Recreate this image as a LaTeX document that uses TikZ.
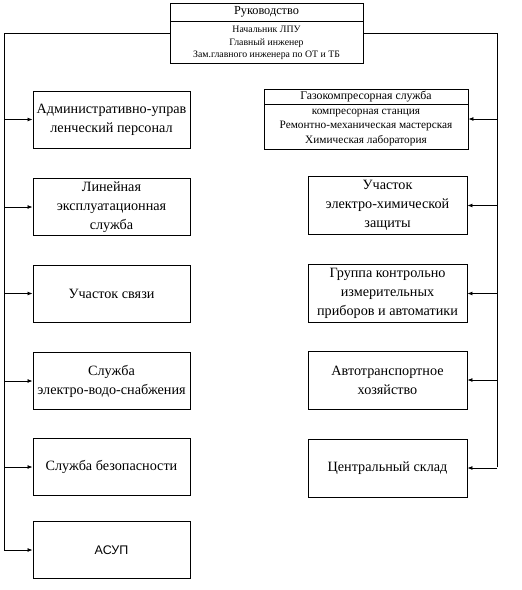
\documentclass[tikz,border=0pt]{standalone}
\usepackage{fontspec}
\setmainfont{Liberation Serif}
\newfontfamily\arialf{Liberation Sans}
\usetikzlibrary{arrows.meta}
\tikzset{
  box/.style={draw, line width=0.9pt, rectangle, align=center, inner sep=1pt,
    font=\fontsize{14.2}{19}\selectfont},
  lbox/.style={box, minimum width=157pt, minimum height=57pt},
  rbox/.style={box, minimum width=159pt, minimum height=58pt},
  smallhead/.style={draw, line width=0.9pt, rectangle, align=center, inner sep=0pt},
  link/.style={line width=0.8pt},
  arr/.style={line width=0.8pt, -{Latex[length=5pt,width=4pt]}}
}
\begin{document}
\begin{tikzpicture}[x=1pt,y=1pt]
\useasboundingbox (0,0) rectangle (522,-590);
% top box
\node[smallhead, minimum width=193pt, minimum height=18pt, font=\fontsize{12.3}{13}\selectfont] (tophead) at (266.5,-12) {Руководство};
\node[smallhead, minimum width=193pt, minimum height=42pt, anchor=north, font=\fontsize{9.8}{12.5}\selectfont] (topbody) at (tophead.south) {Начальник ЛПУ\\Главный инженер\\Зам.главного инженера по ОТ и ТБ};
% gas box
\node[smallhead, minimum width=204pt, minimum height=15pt, font=\fontsize{11.8}{13}\selectfont] (gashead) at (366,-96.5) {Газокомпресорная служба};
\node[smallhead, minimum width=204pt, minimum height=45pt, anchor=north, font=\fontsize{11.3}{14.5}\selectfont] (gasbody) at (gashead.south) {компресорная станция\\Ремонтно-механическая мастерская\\Химическая лаборатория};
% left boxes
\node[lbox] (l1) at (111.5,-119.5) {Административно-управ\\ленческий персонал};
\node[lbox] (l2) at (111.5,-207) {Линейная\\эксплуатационная\\служба};
\node[lbox] (l3) at (111.5,-293.5) {Участок связи};
\node[lbox] (l4) at (111.5,-381) {Служба\\электро-водо-снабжения};
\node[lbox] (l5) at (111.5,-467) {Служба безопасности};
\node[lbox, font=\arialf\fontsize{12.5}{15}\selectfont] (l6) at (111.5,-550) {АСУП};
% right boxes
\node[rbox] (r2) at (387.5,-205.5) {Участок\\электро-химической\\защиты};
\node[rbox] (r3) at (387.5,-293.5) {Группа контрольно\\измерительных\\приборов и автоматики};
\node[rbox] (r4) at (387.5,-380) {Автотранспортное\\хозяйство};
\node[rbox] (r5) at (387.5,-468) {Центральный склад};
% trunks
\coordinate (tl) at (4,-33);
\coordinate (tr) at (497,-33);
\coordinate (lend) at (4,-551);
\coordinate (rend) at (497,-467);
\draw[link] (topbody.west |- tl) -- (tl) -- (lend);
\draw[link] (topbody.east |- tr) -- (tr) -- (rend);
% arrows left
\foreach \n in {l1,l2,l3,l4,l5,l6} {
  \draw[arr] (tl |- \n.west) -- (\n.west);
}
% arrows right
\draw[arr] (tr |- 0,-119) -- (gasbody.east |- 0,-119);
\foreach \n in {r2,r3,r4,r5} {
  \draw[arr] (tr |- \n.east) -- (\n.east);
}
\end{tikzpicture}
\end{document}
